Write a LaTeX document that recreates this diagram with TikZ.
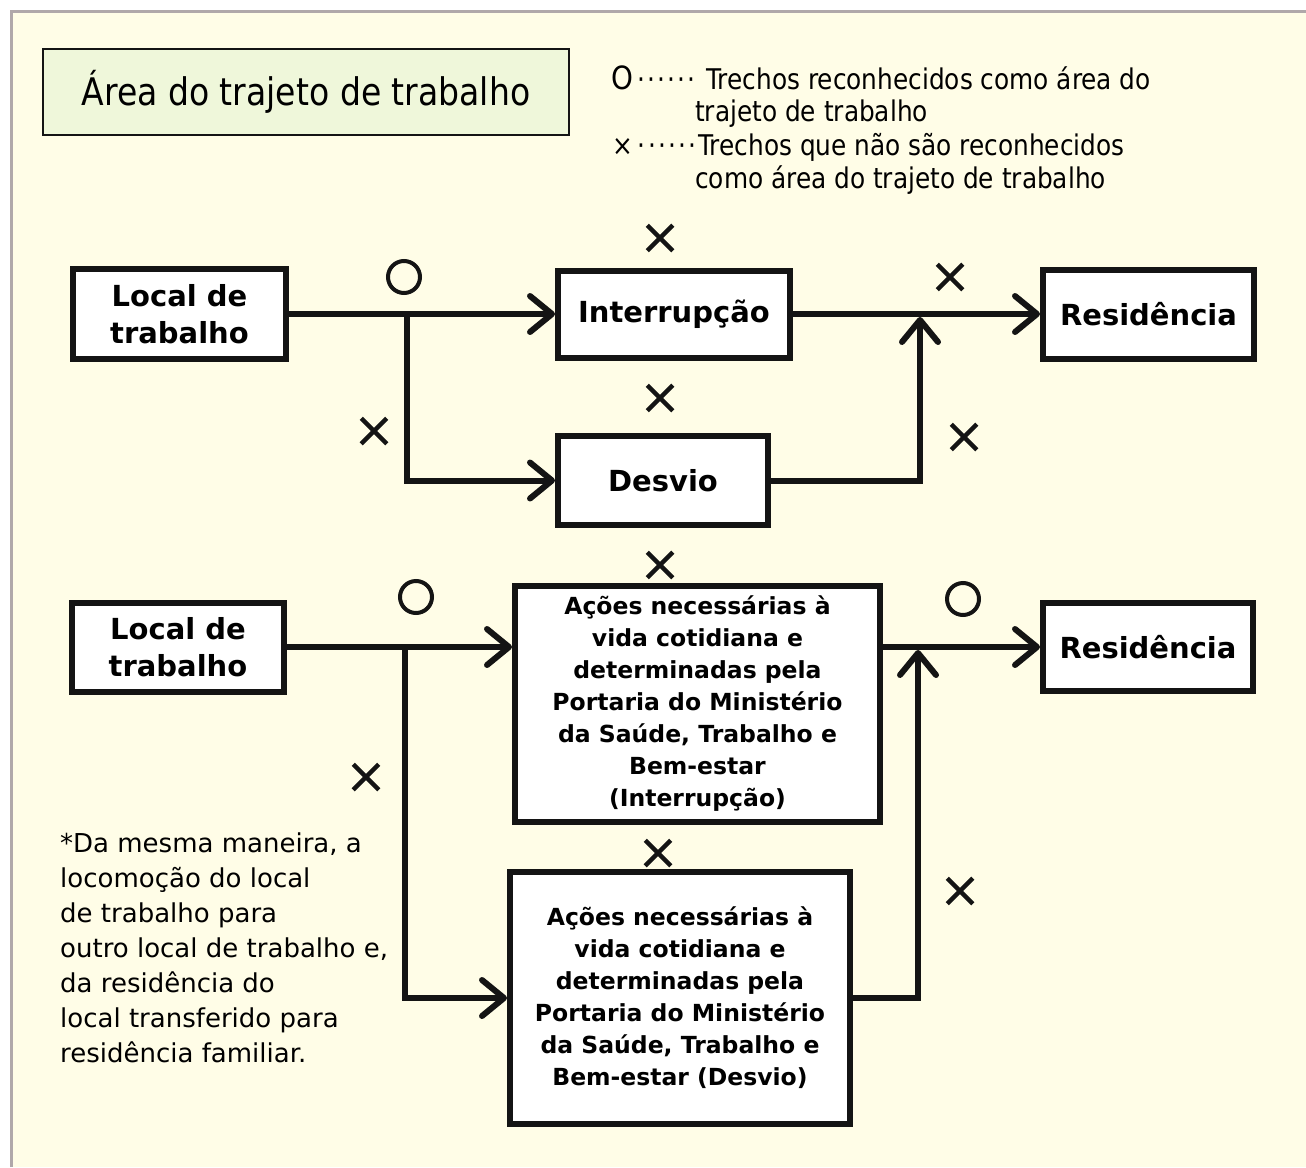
\documentclass[tikz,border=0pt]{standalone}
\usepackage{fontspec}
\setmainfont{DejaVu Sans}
\newfontfamily\legfont[FakeStretch=0.87]{DejaVu Sans}
\newfontfamily\titfont[FakeStretch=0.87]{DejaVu Sans}
\usetikzlibrary{arrows.meta,shapes.misc}
\definecolor{cream}{RGB}{255,253,231}
\definecolor{titlegreen}{RGB}{239,247,218}
\definecolor{framegray}{RGB}{176,168,170}
\definecolor{ink}{RGB}{20,20,20}
\newcommand{\legdots}{·\kern2.2pt·\kern2.2pt·\kern2.2pt·\kern2.2pt·\kern2.2pt·}
\begin{document}
\begin{tikzpicture}[x=1pt,y=-1pt,
  box/.style={draw=ink, line width=6pt, fill=white, align=center, inner sep=0pt,
    font=\bfseries\fontsize{29}{37}\selectfont},
  longbox/.style={box, font=\bfseries\fontsize{23.5}{32}\selectfont},
  titlebox/.style={draw=ink, line width=2.5pt, fill=titlegreen, inner sep=0pt,
    font=\titfont\fontsize{38}{40}\selectfont},
  legtext/.style={anchor=base west, inner sep=0pt, font=\legfont\fontsize{28.5}{33}\selectfont},
  notetext/.style={anchor=north west, inner sep=0pt, align=left, font=\fontsize{26}{35}\selectfont},
  wire/.style={draw=ink, line width=6pt},
  conn/.style={wire, -{Straight Barb[round, length=22pt, width=36pt]}},
  omark/.style={circle, draw=ink, line width=4pt, minimum size=32pt, inner sep=0pt},
  xmark/.style={cross out, draw=ink, line width=4.5pt, minimum size=21pt, inner sep=0pt}
]
\useasboundingbox (0,0) rectangle (1306,1167);
% background
\fill[white] (0,0) rectangle (1306,1167);
\fill[cream] (11,11) rectangle (1306,1167);
\draw[framegray, line width=3pt] (11,1167) -- (11,11) -- (1306,11);

% title and legend
\node[titlebox, minimum width=526pt, minimum height=86pt] (title) at (306,92) {Área do trajeto de trabalho};
\node[legtext] (leg1) at (611,89) {{\fontsize{32}{33}\selectfont O}\kern4pt\legdots\kern11pt Trechos reconhecidos como área do};
\node[legtext] (leg2) at (695,121) {trajeto de trabalho};
\node[legtext] (leg3) at (612,155) {×\kern5pt\legdots\kern2pt Trechos que não são reconhecidos};
\node[legtext] (leg4) at (695,188) {como área do trajeto de trabalho};

% top diagram
\node[box, minimum width=213pt, minimum height=90pt] (local1) at (179.5,314) {Local de\\trabalho};
\node[box, minimum width=232pt, minimum height=87pt] (int1) at (674,314) {Interrupção};
\node[box, minimum width=211pt, minimum height=89pt] (res1) at (1148.5,314) {Residência};
\node[box, minimum width=210pt, minimum height=89pt] (desv1) at (663,480.5) {Desvio};
\coordinate (b1) at (407,314);
\coordinate (j1) at (920,317);
\draw[conn] (local1.east) -- (int1.west);
\draw[conn] (b1) |- (desv1.west);
\draw[conn] (int1.east) -- (res1.west);
\draw[conn] (desv1.east) -| (j1);

\node[omark] (o1) at (404,277) {};
\node[xmark] (x1) at (660,238) {};
\node[xmark] (x2) at (950,277) {};
\node[xmark] (x3) at (660,398) {};
\node[xmark] (x4) at (374,431) {};
\node[xmark] (x5) at (964,437) {};

% bottom diagram
\node[box, minimum width=212pt, minimum height=89pt] (local2) at (178,647) {Local de\\trabalho};
\node[longbox, minimum width=365pt, minimum height=236pt] (int2) at (697.5,704) {Ações necessárias à\\vida cotidiana e\\determinadas pela\\Portaria do Ministério\\da Saúde, Trabalho e\\Bem-estar\\(Interrupção)};
\node[box, minimum width=210pt, minimum height=88pt] (res2) at (1148,647) {Residência};
\node[longbox, minimum width=340pt, minimum height=252pt] (desv2) at (680,998) {Ações necessárias à\\vida cotidiana e\\determinadas pela\\Portaria do Ministério\\da Saúde, Trabalho e\\Bem-estar (Desvio)};
\coordinate (b2) at (405,647);
\coordinate (j2) at (918,650);
\draw[conn] (local2.east) -- (local2.east -| int2.west);
\draw[conn] (b2) |- (desv2.west);
\draw[conn] (int2.east |- res2.west) -- (res2.west);
\draw[conn] (desv2.east) -| (j2);

\node[omark] (o2) at (416,597) {};
\node[omark] (o3) at (963,599) {};
\node[xmark] (x6) at (660,565) {};
\node[xmark] (x7) at (366,777) {};
\node[xmark] (x8) at (658,853) {};
\node[xmark] (x9) at (960,891) {};

% note
\node[notetext] (note) at (60,833) {*Da mesma maneira, a\\locomoção do local\\de trabalho para\\outro local de trabalho e,\\da residência do\\local transferido para\\residência familiar.};
\end{tikzpicture}
\end{document}
